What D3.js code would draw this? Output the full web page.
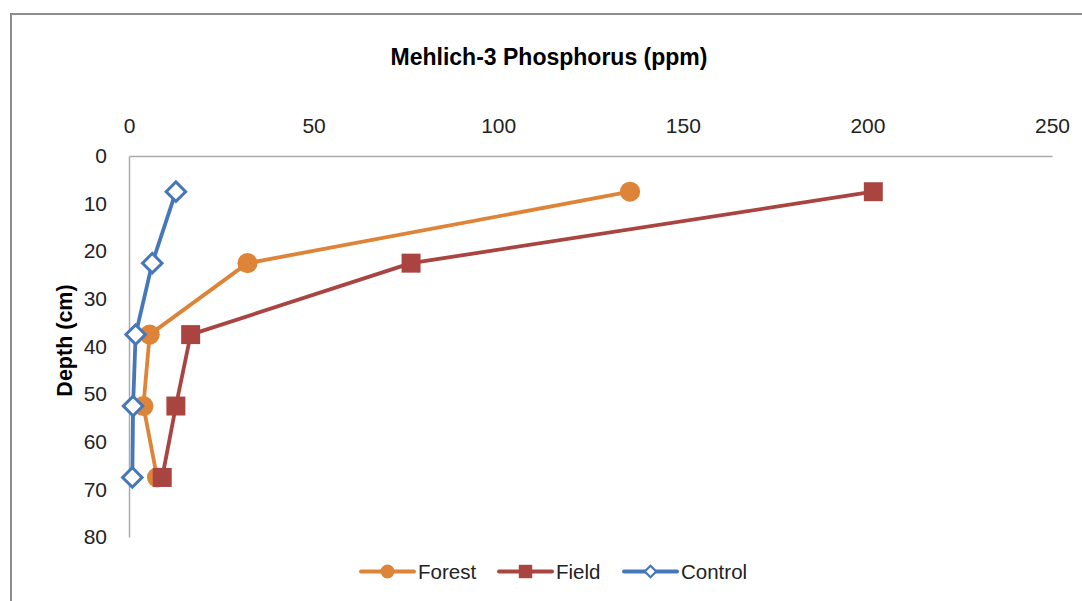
<!DOCTYPE html>
<html>
<head>
<meta charset="utf-8">
<script src="https://cdn.jsdelivr.net/npm/d3@7"></script>
<style>
  html, body { margin: 0; padding: 0; background: #fff; }
  svg { display: block; font-family: "Liberation Sans", Arial, sans-serif; }
</style>
</head>
<body>
<svg id="chart" width="1082" height="601"></svg>
<script>
// Sampling depths (cm), midpoints of each 15 cm layer
const depths = [7.5, 22.5, 37.5, 52.5, 67.5];
// Mehlich-3 phosphorus (ppm) per treatment
const forest  = [135.7, 32.1, 5.6, 3.9, 7.6];
const field   = [201.6, 76.4, 16.7, 12.7, 9.0];
const control = [12.7, 6.3, 1.8, 1.1, 0.9];
const seriesNames = ["Forest", "Field", "Control"];
const xTicks = [0, 50, 100, 150, 200, 250];
const yTicks = [0, 10, 20, 30, 40, 50, 60, 70, 80];

const colors = { Forest: "#DE8439", Field: "#A94441", Control: "#4677B8" };
const shapes = { Forest: "circle", Field: "square", Control: "diamond" };
const values = { Forest: forest, Field: field, Control: control };

const svg = d3.select("#chart");

// outer chart frame
svg.append("rect")
  .attr("x", 11).attr("y", 14)
  .attr("width", 1100).attr("height", 620)
  .attr("fill", "#fff")
  .attr("stroke", "#8c8c8c").attr("stroke-width", 2);

const x = d3.scaleLinear().domain([0, 250]).range([129, 1052]);
const y = d3.scaleLinear().domain([0, 80]).range([156, 537]);

// title
svg.append("text")
  .attr("x", 549).attr("y", 65)
  .attr("text-anchor", "middle")
  .attr("font-size", 23).attr("font-weight", "bold")
  .attr("fill", "#000")
  .text("Mehlich-3 Phosphorus (ppm)");

// axes
const xAxis = svg.append("g")
  .attr("transform", `translate(0,${y(0)})`)
  .call(d3.axisTop(x).tickValues(xTicks).tickSize(0).tickPadding(23));
const yAxis = svg.append("g")
  .attr("transform", `translate(${x(0)},0)`)
  .call(d3.axisLeft(y).tickValues(yTicks).tickSize(0).tickPadding(22));

[xAxis, yAxis].forEach(g => {
  g.select(".domain").attr("stroke", "#ababab").attr("stroke-width", 1.5);
  g.selectAll("text")
    .attr("font-size", 21)
    .attr("font-family", "Liberation Sans, Arial, sans-serif")
    .attr("fill", "#222");
});

// y axis title
svg.append("text")
  .attr("transform", `translate(72,${(y(0) + y(80)) / 2 - 6}) rotate(-90)`)
  .attr("text-anchor", "middle")
  .attr("font-size", 21.5).attr("font-weight", "bold")
  .attr("fill", "#000")
  .text("Depth (cm)");

function symbolPath(shape, big) {
  if (shape === "circle") return d3.symbol(d3.symbolCircle, big ? 320 : 150)();
  if (shape === "square") return d3.symbol(d3.symbolSquare, big ? 360 : 180)();
  return d3.symbol(d3.symbolSquare, big ? 190 : 66)();
}
function styleMarker(sel, name, big) {
  const c = colors[name];
  if (shapes[name] === "diamond") {
    sel.attr("fill", "#fff").attr("stroke", c).attr("stroke-width", big ? 3 : 2.2);
  } else {
    sel.attr("fill", c).attr("stroke", "none");
  }
}

const line = d3.line().x(d => x(d.v)).y(d => y(d.d));

seriesNames.forEach(name => {
  const pts = depths.map((d, i) => ({ d, v: values[name][i] }));
  const g = svg.append("g");
  g.append("path")
    .datum(pts)
    .attr("d", line)
    .attr("fill", "none")
    .attr("stroke", colors[name])
    .attr("stroke-width", 3.8)
    .attr("stroke-linejoin", "round")
    .attr("stroke-linecap", "round");
  g.selectAll("path.m")
    .data(pts)
    .join("path")
    .attr("class", "m")
    .attr("d", symbolPath(shapes[name], true))
    .attr("transform", p => `translate(${x(p.v)},${y(p.d)})` + (shapes[name] === "diamond" ? " rotate(45)" : ""))
    .call(styleMarker, name, true);
});

// legend
const legendX = [361, 499, 624];
const legend = svg.append("g");
seriesNames.forEach((name, i) => {
  const lx = legendX[i], ly = 571.5;
  const g = legend.append("g");
  g.append("line")
    .attr("x1", lx).attr("x2", lx + 53)
    .attr("y1", ly).attr("y2", ly)
    .attr("stroke", colors[name]).attr("stroke-width", 4)
    .attr("stroke-linecap", "round");
  g.append("path")
    .attr("d", symbolPath(shapes[name], false))
    .attr("transform", `translate(${lx + 26.5},${ly})` + (shapes[name] === "diamond" ? " rotate(45)" : ""))
    .call(styleMarker, name, false);
  g.append("text")
    .attr("x", lx + 57).attr("y", ly + 7.5)
    .attr("font-size", 20.5)
    .attr("fill", "#222")
    .text(name);
});
</script>
</body>
</html>
